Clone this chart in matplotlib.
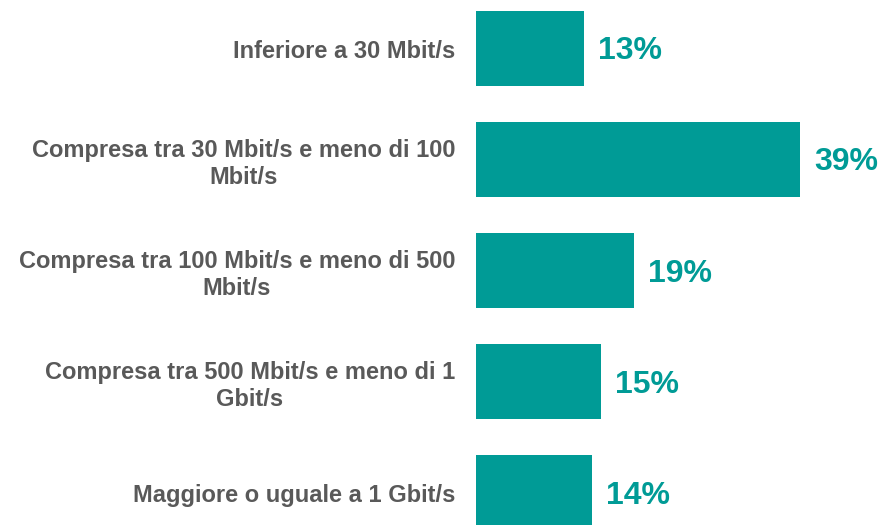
import matplotlib.pyplot as plt

categories = ['Inferiore a 30 Mbit/s',
              'Compresa tra 30 Mbit/s e meno di 100\nMbit/s',
              'Compresa tra 100 Mbit/s e meno di 500\nMbit/s',
              'Compresa tra 500 Mbit/s e meno di 1\nGbit/s',
              'Maggiore o uguale a 1 Gbit/s']
values = [13, 39, 19, 15, 14]

teal = '#009B96'
grey = '#595959'

fig = plt.figure(figsize=(8.82, 5.25), dpi=100)
ax = fig.add_axes([476 / 882, 0, 1 - 476 / 882, 1])

pos = list(range(len(values)))
ax.barh(pos, values, height=0.675, color=teal)

# scale: 39% bar ends at x=800 px
ax.set_xlim(0, 39 * (882 - 476) / (800 - 476))
ax.set_ylim(4 + 32 / 111.1, -48.5 / 111.1)

ax.set_yticks(pos)
ax.set_yticklabels(categories, fontsize=17, fontweight='bold', color=grey,
                   family='Liberation Sans', multialignment='center',
                   linespacing=1.2)
ax.tick_params(axis='y', length=0, pad=15)
ax.set_xticks([])
for s in ax.spines.values():
    s.set_visible(False)

for p, v in zip(pos, values):
    ax.annotate(f'{v}%', (v, p), xytext=(10, -2), textcoords='offset points',
                ha='left', va='center', fontsize=23, fontweight='bold',
                color=teal, family='Liberation Sans')

fig.savefig('out.png', dpi=100)
